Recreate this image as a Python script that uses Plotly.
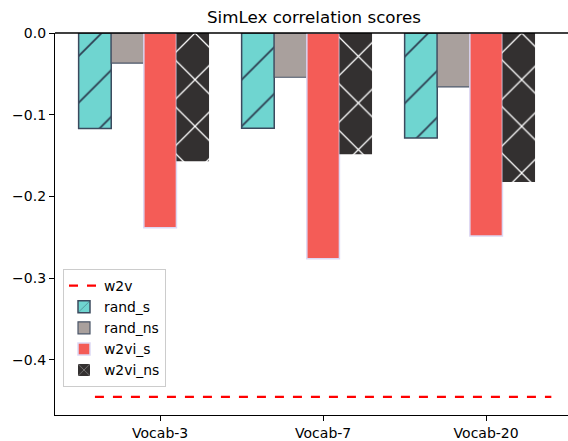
import plotly.graph_objects as go

categories = ["Vocab-3", "Vocab-7", "Vocab-20"]
series_names = ["rand_s", "rand_ns", "w2vi_s", "w2vi_ns"]
rand_s = [-0.1169, -0.1165, -0.1286]
rand_ns = [-0.0368, -0.0542, -0.0659]
w2vi_s = [-0.2383, -0.2763, -0.2484]
w2vi_ns = [-0.1570, -0.1485, -0.1824]
w2v_score = -0.4454

W, H = 568, 441
L, T, B = 55, 33, 23
idx = list(range(len(categories)))
bar_w = 0.2
offsets = [-0.4, -0.2, 0.0, 0.2]

styles = [
    dict(color="#6fd5d0", line=dict(color="#3b4a5e", width=1.5),
         pattern=dict(shape="/", fgcolor="#2b3a4e", fgopacity=1, size=33, solidity=0.05)),
    dict(color="#a9a09d", line=dict(color="#4a5568", width=1.2)),
    dict(color="#f45c57", line=dict(color="#dcd8f4", width=1.5)),
    dict(color="#333030", line=dict(color="#333030", width=0),
         pattern=dict(shape="x", fgcolor="#ffffff", fgopacity=1, size=33, solidity=0.075)),
]
values = [rand_s, rand_ns, w2vi_s, w2vi_ns]

fig = go.Figure()
x0 = idx[0] + offsets[0]
x1 = idx[-1] - offsets[0]
fig.add_trace(go.Scatter(x=[x0, x1], y=[w2v_score, w2v_score], mode="lines",
                         name="w2v", line=dict(color="#ff0000", width=2.2, dash="dash")))
for name, vals, off, st in zip(series_names, values, offsets, styles):
    fig.add_trace(go.Bar(x=[i + off for i in idx], y=vals, width=bar_w, name=name,
                         marker=st))

# x range: left edge at -0.645, right cut at image edge
px_per_unit = 163.0
xr0 = -0.645
xr1 = xr0 + (W - L) / px_per_unit

fig.update_layout(
    width=W, height=H,
    margin=dict(l=L, r=0, t=T, b=B, pad=0),
    plot_bgcolor="white", paper_bgcolor="white",
    barmode="overlay",
    font=dict(family="DejaVu Sans", size=14, color="black"),
    title=dict(text="SimLex correlation scores", xref="container", x=314 / W,
               xanchor="center", yref="container", y=1 - 17 / H, yanchor="middle",
               font=dict(size=16.7, color="black")),
    showlegend=True,
    legend=dict(x=0.0156, y=(H - B - 271) / (H - B - T), xanchor="left", yanchor="top",
                bgcolor="rgba(255,255,255,0.8)", bordercolor="#cccccc", borderwidth=1,
                font=dict(size=13.9), tracegroupgap=0, itemwidth=30),
    xaxis=dict(range=[xr0, xr1], tickvals=idx, ticktext=categories, showgrid=False,
               zeroline=False, showline=True, linecolor="black", linewidth=1.3,
               ticks="outside", ticklen=5, tickcolor="black", tickwidth=1.2),
    yaxis=dict(range=[w2v_score * 1.05, 0], tickvals=[0, -0.1, -0.2, -0.3, -0.4],
               tickformat=".1f", showgrid=False, zeroline=False, showline=True,
               linecolor="black", linewidth=1.3, ticks="outside", ticklen=5,
               tickcolor="black", tickwidth=1.2),
    shapes=[dict(type="line", xref="paper", yref="paper", x0=0, x1=1, y0=1, y1=1,
                 line=dict(color="black", width=1.3))],
)

fig.write_html("out.html", config={"displayModeBar": False},
               post_script="document.body.style.margin='0px';document.body.style.overflow='hidden';")
